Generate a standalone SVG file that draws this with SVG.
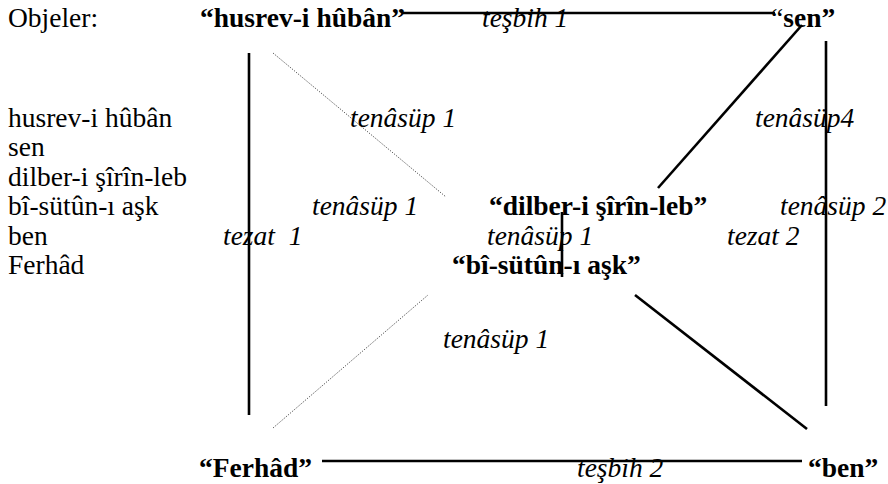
<svg xmlns="http://www.w3.org/2000/svg" width="888" height="484" viewBox="0 0 888 484" font-family="Liberation Serif, Times New Roman, DejaVu Serif, serif">
<style>
text{font-family:'Liberation Serif','Times New Roman','DejaVu Serif',serif;font-size:27.5px;fill:#000}
.b{font-weight:bold}
.i{font-style:italic}
.s{stroke:#000;stroke-width:2.6;fill:none}
.d{stroke:#333;stroke-width:1;stroke-dasharray:1 1.5;fill:none}
</style>
<rect width="888" height="484" fill="#fff"/>
<g id="legend">
<text x="8" y="27">Objeler:</text>
<text x="8" y="127">husrev-i hûbân</text>
<text x="8" y="156">sen</text>
<text x="8" y="186">dilber-i şîrîn-leb</text>
<text x="8" y="215">bî-sütûn-ı aşk</text>
<text x="8" y="245">ben</text>
<text x="8" y="274">Ferhâd</text>
</g>
<g id="connectors">
<line class="s" x1="403" y1="13" x2="775" y2="13"/>
<line class="s" x1="802" y1="25" x2="658" y2="188"/>
<line class="s" x1="826" y1="41" x2="826" y2="406"/>
<line class="s" x1="249" y1="53" x2="249" y2="415"/>
<line class="d" x1="273" y1="53" x2="446" y2="197"/>
<line class="d" x1="273" y1="428" x2="428" y2="295"/>
<line class="s" x1="562" y1="212" x2="562" y2="277"/>
<line class="s" x1="635" y1="295" x2="807" y2="429"/>
<line class="s" x1="322" y1="461" x2="802" y2="461"/>
</g>
<g id="labels">
<text class="i" x="482" y="27">teşbih 1</text>
<text class="i" x="350" y="127">tenâsüp 1</text>
<text class="i" x="755" y="127">tenâsüp4</text>
<text class="i" x="312" y="215">tenâsüp 1</text>
<text class="i" x="780" y="215">tenâsüp 2</text>
<text class="i" x="223" y="245" xml:space="preserve">tezat  1</text>
<text class="i" x="487" y="245">tenâsüp 1</text>
<text class="i" x="727" y="245">tezat 2</text>
<text class="i" x="443" y="348">tenâsüp 1</text>
<text class="i" x="577" y="477">teşbih 2</text>
</g>
<g id="node-husrev"><text class="b" x="200" y="27">“husrev-i hûbân”</text></g>
<g id="node-sen"><text x="771" y="27">“<tspan class="b">sen”</tspan></text></g>
<g id="node-dilber"><text class="b" x="489" y="215">“dilber-i şîrîn-leb”</text></g>
<g id="node-bisutun"><text class="b" x="452" y="274">“bî-sütûn-ı aşk”</text></g>
<g id="node-ferhad"><text class="b" x="199" y="477">“Ferhâd”</text></g>
<g id="node-ben"><text class="b" x="808" y="477">“ben”</text></g>
</svg>
